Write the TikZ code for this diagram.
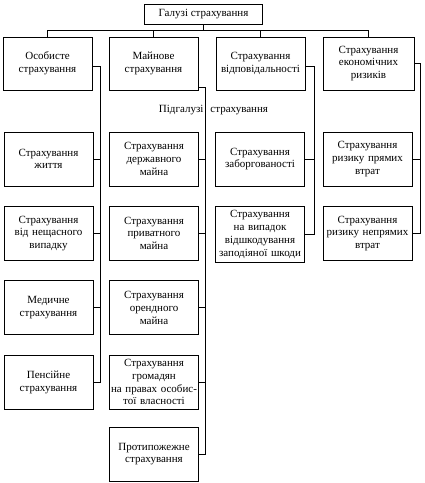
\documentclass[tikz,border=0pt]{standalone}
\usepackage{fontspec}
\setmainfont{Liberation Serif}
\usepackage{tikz}
\usetikzlibrary{
  positioning,
  calc
}
\newcommand{\boxfont}{\fontsize{11}{12.7}\selectfont}
\tikzset{
  rootbox/.style={draw,line width=0.9pt,minimum width=118pt,minimum height=20pt,inner sep=1pt,font=\boxfont},
  branchbox/.style={draw,line width=0.9pt,minimum width=89pt,minimum height=53pt,text width=87pt,align=center,inner sep=1pt,font=\boxfont},
  leafbox/.style={branchbox,minimum height=54pt},
  link/.style={line width=0.7pt}
}

\begin{document}
\begin{tikzpicture}[x=1pt,y=-1pt,node distance=19.5pt]
\useasboundingbox (0,0) rectangle (424,483);
\node[rootbox] (root) at (203.5,14) {Галузі страхування};
\node[branchbox] (osob) at (47.5,63.5) {Особисте\\страхування};
\node[branchbox] (main) at (153.5,63.5) {Майнове\\страхування};
\node[branchbox] (vidp) at (260.5,63.5) {Страхування\\відповідальності};
\node[branchbox,minimum width=91pt] (ekon) at (368.5,63.5) {Страхування\\економічних\\ризиків};
\node[font=\boxfont] (pidg) at (213.5,110) {Підгалузі\hspace{7pt}страхування};

% personal
\node[leafbox] (zhyt) at (48.5,159) {Страхування\\життя};
\node[leafbox,below=of zhyt] (nesch) {Страхування\\від нещасного\\випадку};
\node[leafbox,below=of nesch] (med) {Медичне\\страхування};
\node[leafbox,below=of med] (pens) {Пенсійне\\страхування};

% property
\node[leafbox] (derzh) at (154,159) {Страхування\\державного\\майна};
\node[leafbox,below=of derzh] (pryv) {Страхування\\приватного\\майна};
\node[leafbox,below=of pryv] (orend) {Страхування\\орендного\\майна};
\node[leafbox,below=of orend] (hrom) {Страхування\\громадян\\на правах особис-\\тої власності};
\node[leafbox,below=17pt of hrom] (pozh) {Протипожежне\\страхування};

% liability
\node[leafbox] (zabor) at (260,159) {Страхування\\заборгованості};
\node[leafbox,below=of zabor,minimum height=56pt] (shkod) {Страхування\\на випадок\\відшкодування\\заподіяної шкоди};

% economic risks
\node[leafbox] (pryam) at (367.5,159) {Страхування\\ризику прямих\\втрат};
\node[leafbox,below=of pryam] (nepr) {Страхування\\ризику непрямих\\втрат};

\coordinate (bus) at (0,30);
\coordinate (sp1) at (100,0);
\coordinate (sp2) at (205,0);
\coordinate (sp3) at (314,0);
\coordinate (sp4) at (420,0);

\draw[link] (root.south) -- (root.south |- bus);
\draw[link] (osob.north) |- (bus -| ekon.north) -- (ekon.north);
\draw[link] (main.north) -- (main.north |- bus);
\draw[link] (vidp.north) -- (vidp.north |- bus);

\draw[link] ([yshift=-2.5pt]osob.east) -| (sp1 |- pens.east) -- (pens.east);
\foreach \n in {zhyt,nesch,med}
  \draw[link] (\n.east) -- (\n.east -| sp1);
\draw[link] ([yshift=-23.5pt]main.east) -| (sp2 |- pozh.east) -- (pozh.east);
\foreach \n in {derzh,pryv,orend,hrom}
  \draw[link] (\n.east) -- (\n.east -| sp2);
\draw[link] ([yshift=-2.5pt]vidp.east) -| (sp3 |- shkod.east) -- (shkod.east);
\draw[link] (zabor.east) -- (zabor.east -| sp3);
\draw[link] (ekon.east) -| (sp4 |- nepr.east) -- (nepr.east);
\draw[link] (pryam.east) -- (pryam.east -| sp4);
\end{tikzpicture}
\end{document}
